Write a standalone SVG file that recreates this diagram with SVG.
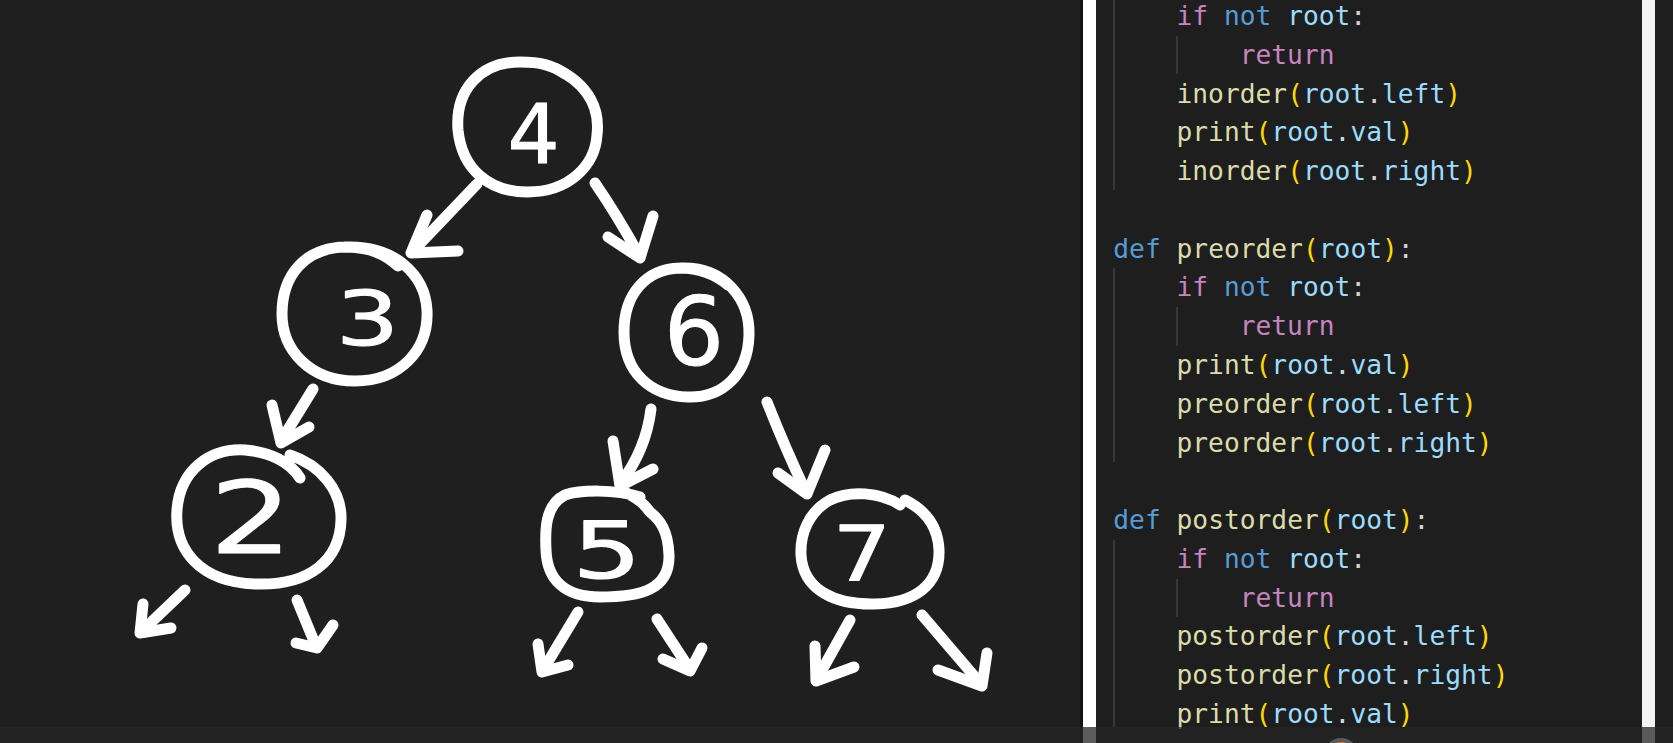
<svg xmlns="http://www.w3.org/2000/svg" width="1673" height="743" viewBox="0 0 1673 743">
<style>
.ln{fill:none;stroke:#ffffff;stroke-width:11;stroke-linecap:round;stroke-linejoin:round}
.dg{font-family:"DejaVu Sans","Noto Sans",sans-serif;fill:#ffffff;stroke:#ffffff;stroke-width:1;stroke-linejoin:round;text-anchor:middle}
.code{font-family:"DejaVu Sans Mono","Liberation Mono",monospace;font-size:26.25px;fill:#d4d4d4}
.k{fill:#c586c0}.b{fill:#569cd6}.v{fill:#9cdcfe}.f{fill:#dcdcaa}.p{fill:#ffd700}.o{fill:#d4d4d4}
.g{stroke:#404040;stroke-width:1.5}
</style>
<rect x="0" y="0" width="1673" height="743" fill="#1f1f1f"/>
<rect x="1096" y="0" width="545" height="743" fill="#1e1e1e"/>
<rect x="1080" y="0" width="3" height="743" fill="#121212"/>
<rect x="1083" y="0" width="13" height="743" fill="#ffffff"/>
<rect x="1642" y="0" width="13" height="743" fill="#f4f4f4"/>

<g id="connectors">
  <path class="ln" d="M477 184 L413 251"/><path class="ln" d="M427 215 L411 253 L458 251"/>
  <path class="ln" d="M595 183 Q617 215 639 255"/><path class="ln" d="M608 237 L640 258 L653 216"/>
  <path class="ln" d="M313 389 L281 441"/><path class="ln" d="M272 405 L281 443 L309 427"/>
  <path class="ln" d="M651 409 Q646 450 620 484"/><path class="ln" d="M613 441 L620 486 L653 469"/>
  <path class="ln" d="M767 402 Q786 450 806 492"/><path class="ln" d="M778 473 L807 494 L825 450"/>
  <path class="ln" d="M185 590 L141 632"/><path class="ln" d="M143 604 L140 633 L171 628"/>
  <path class="ln" d="M297 600 L316 646"/><path class="ln" d="M296 643 L317 648 L333 625"/>
  <path class="ln" d="M578 612 L543 670"/><path class="ln" d="M538 644 L542 672 L568 665"/>
  <path class="ln" d="M657 619 L689 668"/><path class="ln" d="M663 659 L690 671 L702 648"/>
  <path class="ln" d="M850 620 L817 679"/><path class="ln" d="M815 646 L816 681 L854 667"/>
  <path class="ln" d="M922 615 L981 684"/><path class="ln" d="M938 670 L982 686 L987 653"/>
</g>

<g id="node4">
  <path class="ln" d="M555 68 C590 85 600 110 597 135 C595 165 570 192 527 192 C490 192 462 170 458 130 C455 90 480 62 520 62 C540 62 552 65 565 74"/>
  <text class="dg" font-size="82" transform="translate(533.5,163.4)">4</text>
</g>
<g id="node3">
  <path class="ln" d="M345 247 C395 245 425 275 427 310 C429 350 400 381 355 381 C310 381 282 350 282 314 C282 275 305 248 345 247 C370 247 385 254 398 266"/>
  <text class="dg" font-size="74" transform="translate(367.5,345) scale(1.35,1)">3</text>
</g>
<g id="node6">
  <path class="ln" d="M680 268 C725 266 750 300 749 335 C748 375 722 398 688 397 C650 396 624 372 624 332 C624 295 645 269 680 268 C700 268 716 275 728 285"/>
  <text class="dg" font-size="95" transform="translate(694,364.5)">6</text>
</g>
<g id="node2">
  <path class="ln" d="M300 478 C290 462 270 452 245 450 C210 448 180 470 177 510 C174 550 200 582 255 584 C310 586 340 560 341 520 C342 490 320 465 290 455"/>
  <text class="dg" font-size="100" transform="translate(251,552.5) scale(1.3,1)">2</text>
</g>
<g id="node5">
  <path class="ln" d="M640 497 C615 489 580 490 565 495 C545 505 545 530 546 550 C547 580 565 597 600 597 C640 597 670 590 669 555 C668 530 660 520 650 512 C645 505 640 500 625 492"/>
  <text class="dg" font-size="78" transform="translate(607,578.4) scale(1.4,1)">5</text>
</g>
<g id="node7">
  <path class="ln" d="M900 505 C880 492 850 490 830 500 C808 512 800 535 801 555 C803 590 835 605 875 604 C915 603 940 585 939 550 C938 525 925 510 905 500"/>
  <text class="dg" font-size="77" transform="translate(862,580.5) scale(1.2,1)">7</text>
</g>

<g id="code">
  <line class="g" x1="1114" y1="0" x2="1114" y2="190"/>
  <line class="g" x1="1177" y1="36" x2="1177" y2="74"/>
  <line class="g" x1="1114" y1="268" x2="1114" y2="462"/>
  <line class="g" x1="1177" y1="307" x2="1177" y2="346"/>
  <line class="g" x1="1114" y1="540" x2="1114" y2="727"/>
  <line class="g" x1="1177" y1="579" x2="1177" y2="617"/>
  <text class="code" xml:space="preserve" x="1176.5" y="25"><tspan class="k">if</tspan><tspan class="b"> not</tspan><tspan class="v"> root</tspan><tspan class="o">:</tspan></text>
  <text class="code" xml:space="preserve" x="1239.7" y="63.8"><tspan class="k">return</tspan></text>
  <text class="code" xml:space="preserve" x="1176.5" y="102.5"><tspan class="f">inorder</tspan><tspan class="p">(</tspan><tspan class="v">root</tspan><tspan class="o">.</tspan><tspan class="v">left</tspan><tspan class="p">)</tspan></text>
  <text class="code" xml:space="preserve" x="1176.5" y="141.3"><tspan class="f">print</tspan><tspan class="p">(</tspan><tspan class="v">root</tspan><tspan class="o">.</tspan><tspan class="v">val</tspan><tspan class="p">)</tspan></text>
  <text class="code" xml:space="preserve" x="1176.5" y="180.1"><tspan class="f">inorder</tspan><tspan class="p">(</tspan><tspan class="v">root</tspan><tspan class="o">.</tspan><tspan class="v">right</tspan><tspan class="p">)</tspan></text>
  <text class="code" xml:space="preserve" x="1113.3" y="257.6"><tspan class="b">def</tspan><tspan class="f"> preorder</tspan><tspan class="p">(</tspan><tspan class="v">root</tspan><tspan class="p">)</tspan><tspan class="o">:</tspan></text>
  <text class="code" xml:space="preserve" x="1176.5" y="296.4"><tspan class="k">if</tspan><tspan class="b"> not</tspan><tspan class="v"> root</tspan><tspan class="o">:</tspan></text>
  <text class="code" xml:space="preserve" x="1239.7" y="335.2"><tspan class="k">return</tspan></text>
  <text class="code" xml:space="preserve" x="1176.5" y="373.9"><tspan class="f">print</tspan><tspan class="p">(</tspan><tspan class="v">root</tspan><tspan class="o">.</tspan><tspan class="v">val</tspan><tspan class="p">)</tspan></text>
  <text class="code" xml:space="preserve" x="1176.5" y="412.7"><tspan class="f">preorder</tspan><tspan class="p">(</tspan><tspan class="v">root</tspan><tspan class="o">.</tspan><tspan class="v">left</tspan><tspan class="p">)</tspan></text>
  <text class="code" xml:space="preserve" x="1176.5" y="451.5"><tspan class="f">preorder</tspan><tspan class="p">(</tspan><tspan class="v">root</tspan><tspan class="o">.</tspan><tspan class="v">right</tspan><tspan class="p">)</tspan></text>
  <text class="code" xml:space="preserve" x="1113.3" y="529"><tspan class="b">def</tspan><tspan class="f"> postorder</tspan><tspan class="p">(</tspan><tspan class="v">root</tspan><tspan class="p">)</tspan><tspan class="o">:</tspan></text>
  <text class="code" xml:space="preserve" x="1176.5" y="567.8"><tspan class="k">if</tspan><tspan class="b"> not</tspan><tspan class="v"> root</tspan><tspan class="o">:</tspan></text>
  <text class="code" xml:space="preserve" x="1239.7" y="606.6"><tspan class="k">return</tspan></text>
  <text class="code" xml:space="preserve" x="1176.5" y="645.3"><tspan class="f">postorder</tspan><tspan class="p">(</tspan><tspan class="v">root</tspan><tspan class="o">.</tspan><tspan class="v">left</tspan><tspan class="p">)</tspan></text>
  <text class="code" xml:space="preserve" x="1176.5" y="684.1"><tspan class="f">postorder</tspan><tspan class="p">(</tspan><tspan class="v">root</tspan><tspan class="o">.</tspan><tspan class="v">right</tspan><tspan class="p">)</tspan></text>
  <text class="code" xml:space="preserve" x="1176.5" y="722.9"><tspan class="f">print</tspan><tspan class="p">(</tspan><tspan class="v">root</tspan><tspan class="o">.</tspan><tspan class="v">val</tspan><tspan class="p">)</tspan></text>
</g>

<rect x="0" y="727" width="1673" height="16" fill="#262626" fill-opacity="0.75"/>
<circle cx="1341" cy="755" r="17" fill="#5a5a5a"/>
<circle cx="1341" cy="755" r="13" fill="#e87a2c"/>
</svg>
